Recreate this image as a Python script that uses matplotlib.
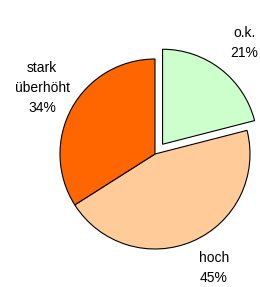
import matplotlib
matplotlib.use("Agg")
import matplotlib.pyplot as plt

# ---------- Data ----------
categories = ["o.k.", "hoch", "stark\nüberhöht"]
shares = [21, 45, 34]
colors = ["#CCFFCC", "#FFCC99", "#FF6600"]

W, H = 260, 287
RADIUS = 95
# pie() shifts exploded wedges in data units, so scale by radius
explode = [0.13 * RADIUS, 0, 0]

# label anchor points (pixel coords, origin top-left)
label_pos = [(244, 43), (214, 268), (42, 88)]

plt.rcParams["font.family"] = ["Liberation Sans", "DejaVu Sans"]

fig = plt.figure(figsize=(W / 100, H / 100), dpi=100)
ax = fig.add_axes([0, 0, 1, 1])
ax.axis("off")

ax.pie(shares, colors=colors, explode=explode, startangle=90,
       counterclock=False, center=(155, H - 154), radius=RADIUS,
       wedgeprops=dict(edgecolor="black", linewidth=0.8))
ax.set_xlim(0, W)
ax.set_ylim(0, H)
ax.set_aspect("equal")

for cat, val, (x, y) in zip(categories, shares, label_pos):
    ax.text(x, H - y, f"{cat}\n{val}%", ha="center", va="center",
            fontsize=10, linespacing=1.5)

fig.savefig("out.png", dpi=100)
